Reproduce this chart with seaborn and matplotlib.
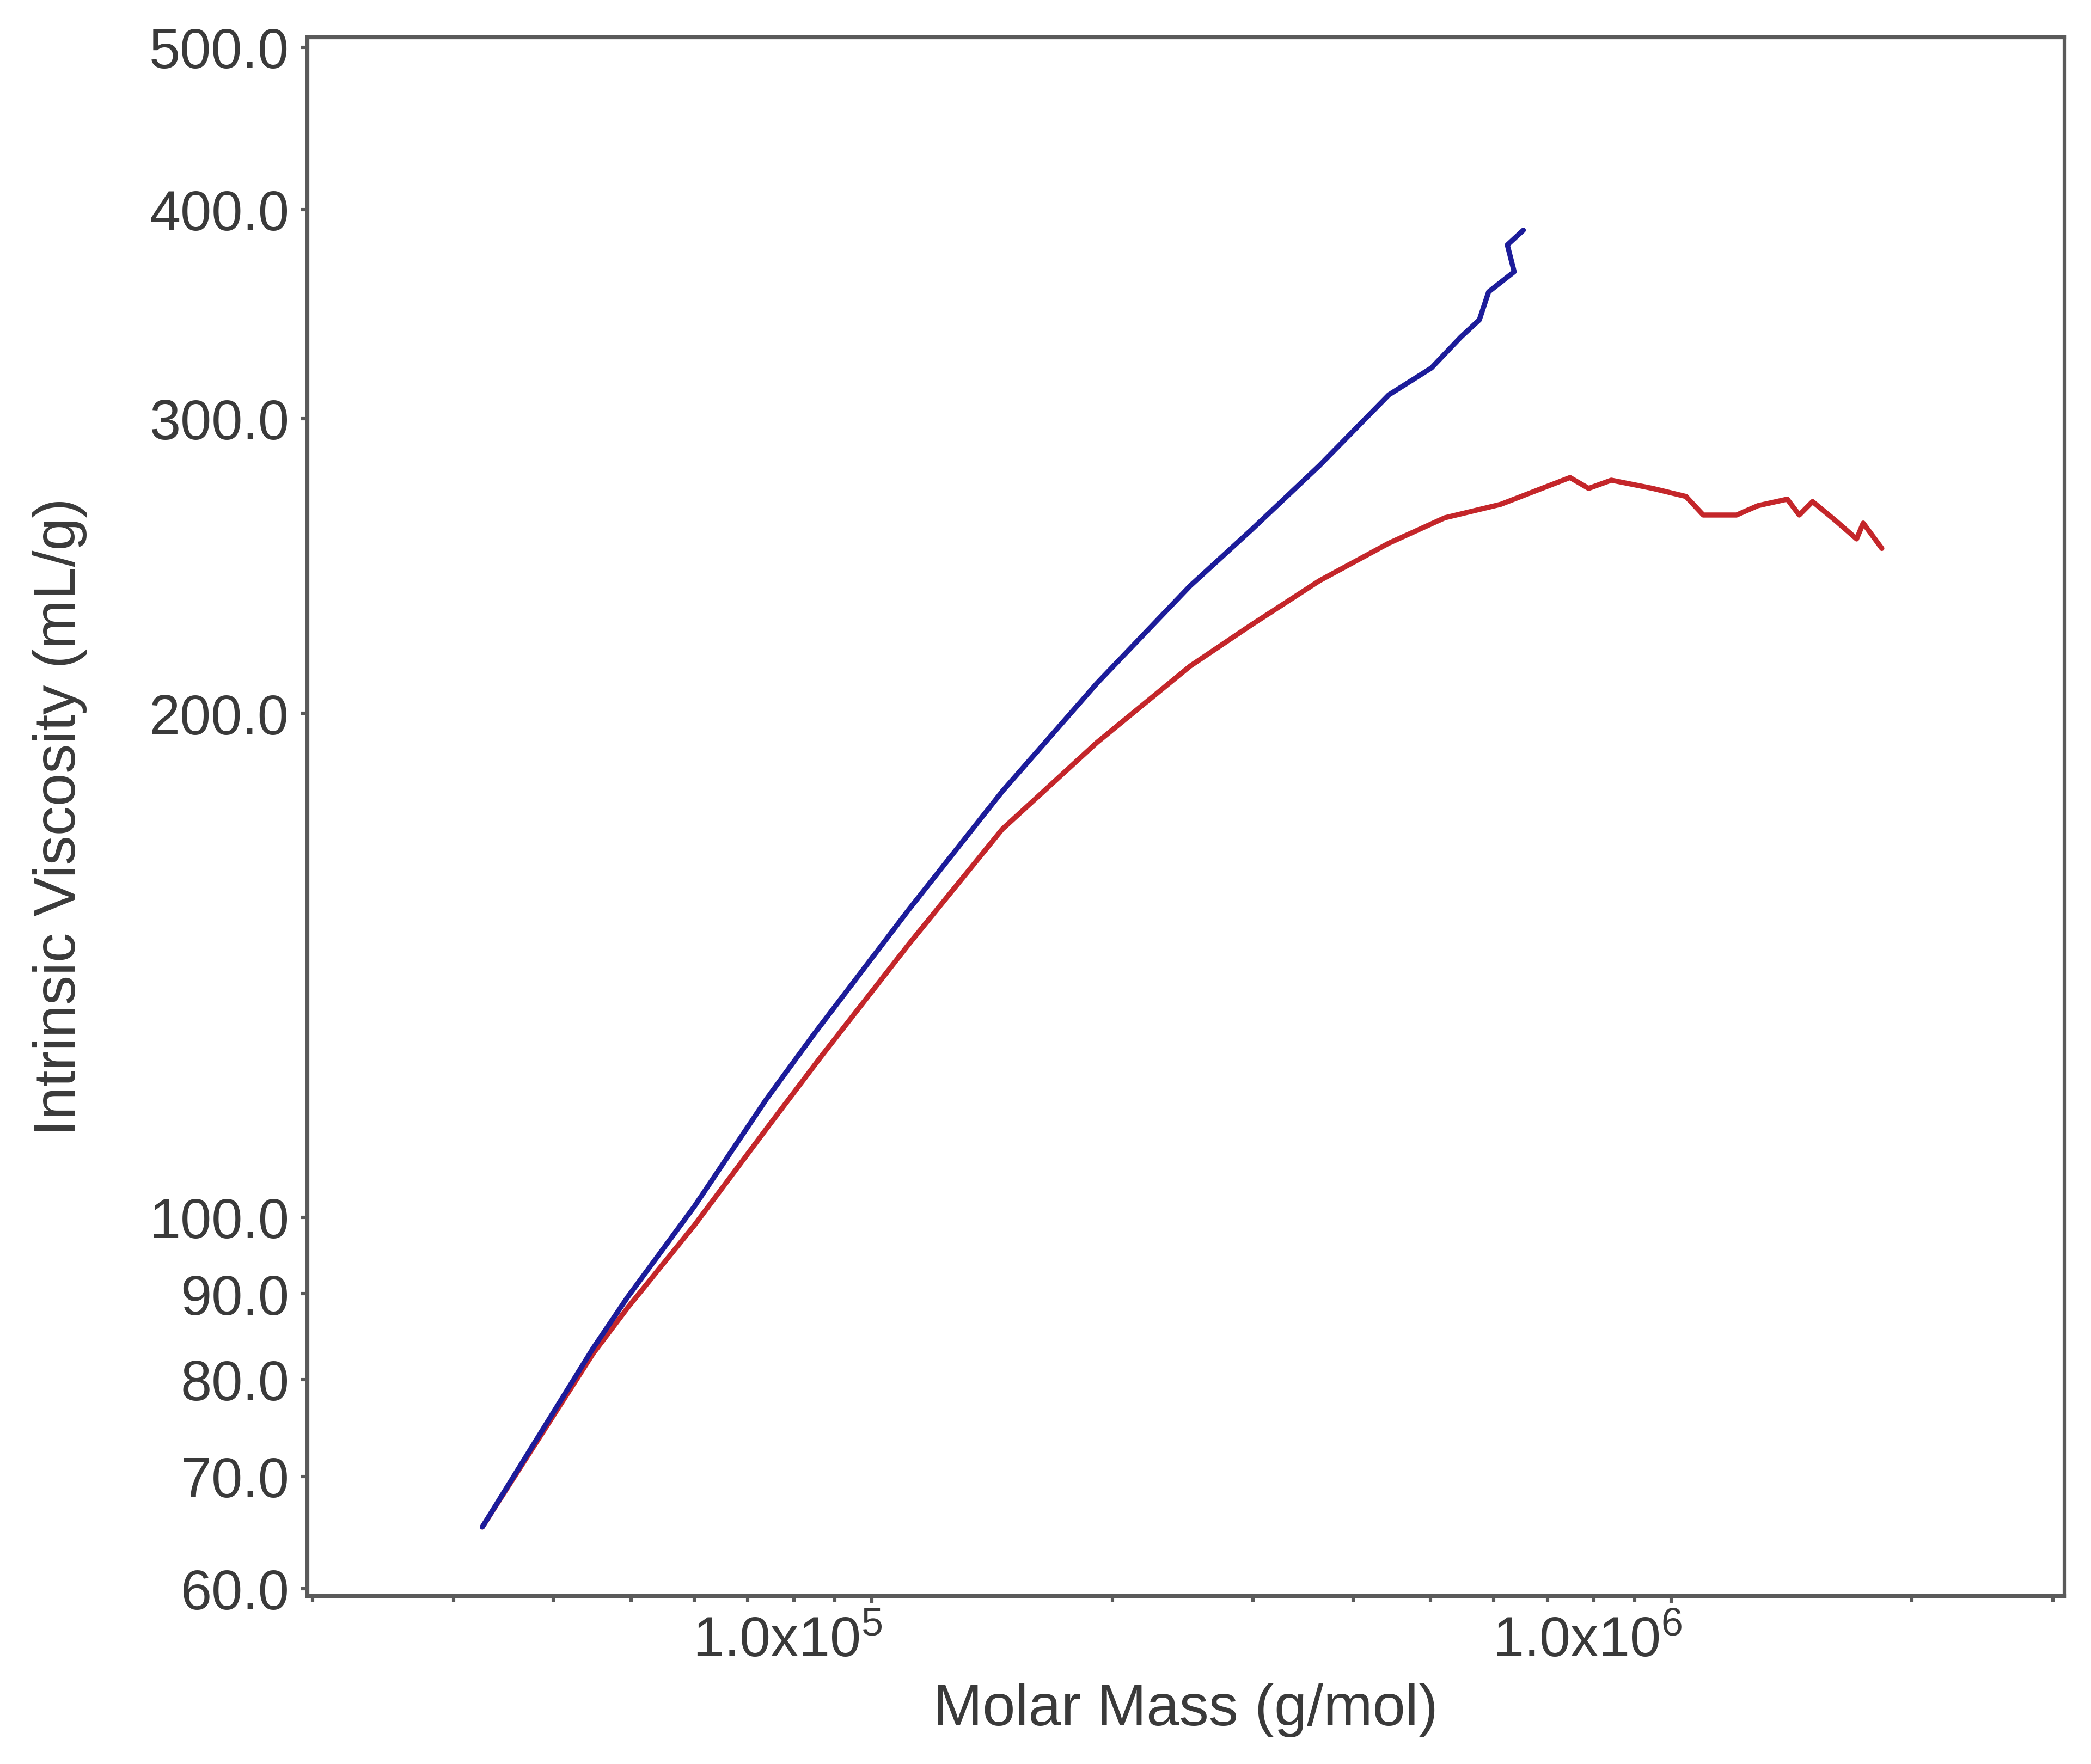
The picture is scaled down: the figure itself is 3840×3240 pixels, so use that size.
import numpy as np
import pandas as pd
import matplotlib
matplotlib.use("Agg")
import matplotlib.pyplot as plt
import matplotlib.transforms as mtransforms
from matplotlib.ticker import FixedLocator, NullFormatter, LogLocator
import seaborn as sns

# ---- data ----
blue_mass = [32600, 44850, 49550, 60040, 73850, 84780, 111350, 145650, 191300,
             250200, 298500, 363100, 443300, 501200, 545300, 575400, 591000,
             636100, 623700, 653100]
blue_iv = [65.3, 83.5, 89.6, 101.5, 117.6, 128.7, 152.7, 179.6, 208.4,
           238.3, 257.4, 281.2, 309.9, 321.6, 335.5, 343.6, 357.1,
           367.1, 380.9, 388.7]

red_mass = [32600, 44850, 49550, 60040, 73850, 86440, 111350, 145650, 191300,
            250200, 297400, 363100, 443300, 520900, 612000, 689000, 747000,
            788200, 841400, 947700, 1043100, 1096500, 1206600, 1283200,
            1396400, 1445400, 1502000, 1603200, 1705000, 1737800, 1833600]
red_iv = [65.3, 82.9, 88.3, 98.9, 112.9, 124.7, 145.6, 170.5, 192.1,
          213.4, 225.6, 240.0, 252.7, 261.7, 266.6, 272.5, 276.6,
          272.5, 275.6, 272.5, 269.5, 262.7, 262.7, 266.1,
          268.5, 262.7, 267.6, 260.8, 254.2, 259.8, 250.9]

y_ticks = [60, 70, 80, 90, 100, 200, 300, 400, 500]
y_tick_labels = ["60.0", "70.0", "80.0", "90.0", "100.0", "200.0", "300.0", "400.0", "500.0"]
x_major = [1e5, 1e6]
x_major_labels = ["1.0x10$^{5}$", "1.0x10$^{6}$"]
x_label = "Molar Mass (g/mol)"
y_label = "Intrinsic Viscosity (mL/g)"

# ---- style ----
sns.set_theme(style="white")
plt.rcParams['font.family'] = ['Liberation Sans', 'DejaVu Sans']
plt.rcParams['mathtext.fontset'] = 'custom'
plt.rcParams['mathtext.rm'] = 'Liberation Sans'
plt.rcParams['mathtext.it'] = 'Liberation Sans'

text_col = "#3a3a3a"
spine_col = "#5a5a5a"

fig = plt.figure(figsize=(19.2, 16.205), dpi=200)
ax = fig.add_axes([0.147, 0.0953, 0.9872 - 0.147, 0.9787 - 0.0953])

df_b = pd.DataFrame({"M": blue_mass, "IV": blue_iv})
df_r = pd.DataFrame({"M": red_mass, "IV": red_iv})

sns.lineplot(data=df_r, x="M", y="IV", color="#c4262a", lw=3.4, sort=False,
             estimator=None, ax=ax)
sns.lineplot(data=df_b, x="M", y="IV", color="#1c1c9a", lw=3.4, sort=False,
             estimator=None, ax=ax)

ax.set_xscale("log")
ax.set_yscale("log")
ax.set_xlim(1.97e4, 3.1e6)
ax.set_ylim(59.4, 507)

ax.yaxis.set_major_locator(FixedLocator(y_ticks))
ax.set_yticklabels(y_tick_labels)
ax.yaxis.set_minor_locator(FixedLocator([]))
ax.yaxis.set_minor_formatter(NullFormatter())

ax.xaxis.set_major_locator(FixedLocator(x_major))
ax.set_xticklabels(x_major_labels)
ax.xaxis.set_minor_locator(LogLocator(base=10, subs=np.arange(2, 10)))
ax.xaxis.set_minor_formatter(NullFormatter())

ax.tick_params(axis="both", which="both", direction="out", color=spine_col,
               width=2.2, labelcolor=text_col)
ax.tick_params(axis="y", which="major", length=4, pad=8, labelsize=37)
ax.tick_params(axis="x", which="major", length=5, pad=8, labelsize=37)
ax.tick_params(axis="x", which="minor", length=4)
ax.tick_params(bottom=True, left=True, which="both")

offset = mtransforms.ScaledTranslation(0.10, 0, fig.dpi_scale_trans)
for lbl in ax.get_xticklabels():
    lbl.set_horizontalalignment("right")
    lbl.set_transform(lbl.get_transform() + offset)

for sp in ax.spines.values():
    sp.set_visible(True)
    sp.set_color(spine_col)
    sp.set_linewidth(2.6)

ax.set_xlabel(x_label, fontsize=39, color=text_col)
ax.set_ylabel(y_label, fontsize=39, color=text_col)
ax.xaxis.set_label_coords(0.5, -0.073)
ax.xaxis.label.set_verticalalignment("center")
ax.yaxis.set_label_coords(-0.141, 0.5)
ax.yaxis.label.set_verticalalignment("center")
ax.grid(False)

fig.savefig("out.png", dpi=200, facecolor="white")
